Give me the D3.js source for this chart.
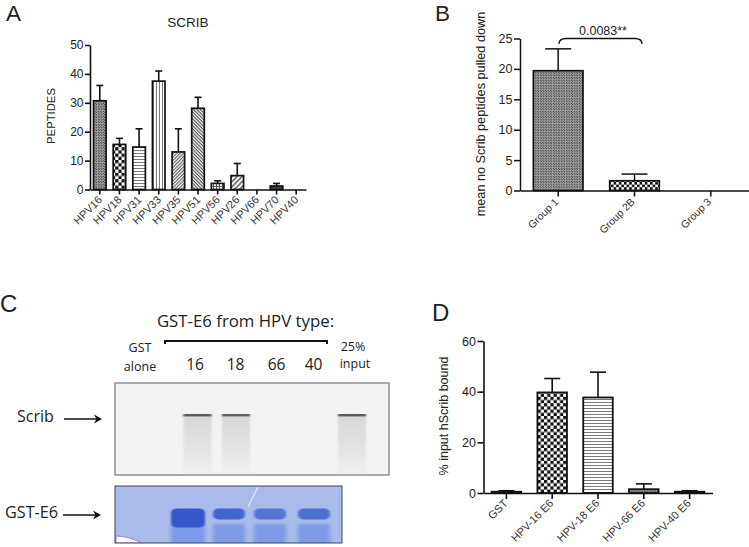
<!DOCTYPE html>
<html>
<head>
<meta charset="utf-8">
<script src="https://cdn.jsdelivr.net/npm/d3@7/dist/d3.min.js"></script>
<style>
body { margin: 0; background: #fff; }
svg { display: block; }
text { font-family: "Liberation Sans", Arial, sans-serif; fill: #222; }
.slide text { font-family: "Open Sans", sans-serif; }
.tick line, .domain { stroke: #111; }
</style>
</head>
<body>
<svg id="fig" width="749" height="547"></svg>
<script>
// panel A
var hpvTypes = ["HPV16", "HPV18", "HPV31", "HPV33", "HPV35", "HPV51", "HPV56", "HPV26", "HPV66", "HPV70", "HPV40"];
var hpvMeans = [30.7, 15.6, 14.7, 37.5, 13, 28.1, 2.1, 4.8, 0, 1.2, 0];
var hpvTops = [36, 17.7, 21, 41, 21, 31.9, 3, 9, 0, 2.1, 0];
var hpvFills = ["dots", "checks", "hlines", "vlines", "diagUp", "diagDown", "grid", "wideDiag", "dots", "dark", "dots"];
var hpvTicks = [0, 10, 20, 30, 40, 50];

// panel B
var groups = ["Group 1", "Group 2B", "Group 3"];
var groupMeans = [19.7, 1.6, 0];
var groupTops = [23.3, 2.7, 0];
var groupFills = ["dots", "checksFine", "dots"];
var groupTicks = [0, 5, 10, 15, 20, 25];

// panel D
var boundTypes = ["GST", "HPV-16 E6", "HPV-18 E6", "HPV-66 E6", "HPV-40 E6"];
var boundMeans = [0.5, 39.7, 37.7, 1.5, 0.5];
var boundTops = [0.9, 45.2, 47.7, 3.6, 0.9];
var boundFills = ["dots", "checks", "hlines", "dots", "dots"];
var boundTicks = [0, 20, 40, 60];

// panel C gel lanes
var lanes = ["16", "18", "66", "40"];
var scribLanes = ["16", "18", "input"];
var scribBand = [0.85, 0.8, 0.85];
var gstBand = [1, 0.85, 0.7, 0.75];

var svg = d3.select("#fig");
var defs = svg.append("defs");

function addPattern(id, size, draw, rotate) {
    var p = defs.append("pattern")
        .attr("id", id)
        .attr("patternUnits", "userSpaceOnUse")
        .attr("width", size)
        .attr("height", size);
    if (rotate) p.attr("patternTransform", "rotate(" + rotate + ")");
    p.append("rect").attr("width", size).attr("height", size).attr("fill", "#fff");
    draw(p);
}
function box(p, x, y, w, h, c) {
    p.append("rect").attr("x", x).attr("y", y).attr("width", w).attr("height", h).attr("fill", c || "#111");
}
addPattern("dots", 2.6, function (p) { box(p, 0, 0, 1.3, 1.3, "#333"); box(p, 1.3, 1.3, 1.3, 1.3, "#333"); box(p, 1.3, 0, 1.3, 1.3, "#999"); box(p, 0, 1.3, 1.3, 1.3, "#999"); });
addPattern("checks", 6.4, function (p) { box(p, 0, 0, 3.2, 3.2); box(p, 3.2, 3.2, 3.2, 3.2); });
addPattern("checksFine", 5.2, function (p) { box(p, 0, 0, 2.6, 2.6); box(p, 2.6, 2.6, 2.6, 2.6); });
addPattern("hlines", 3, function (p) { box(p, 0, 0, 3, 1, "#777"); });
addPattern("vlines", 3, function (p) { box(p, 0, 0, 1, 3, "#777"); });
addPattern("diagUp", 2.4, function (p) { box(p, 0, 0, 2.4, 1.2, "#666"); }, -45);
addPattern("diagDown", 2.4, function (p) { box(p, 0, 0, 2.4, 1.2, "#555"); }, 45);
addPattern("grid", 3, function (p) { box(p, 0, 0, 3, 1, "#555"); box(p, 0, 0, 1, 3, "#555"); });
addPattern("wideDiag", 3.6, function (p) { box(p, 0, 0, 3.6, 1.6, "#666"); }, -45);
addPattern("dark", 2, function (p) { box(p, 0, 0, 2, 2, "#444"); });

function barPanel(o) {
    var g = svg.append("g");
    var x = d3.scaleBand().domain(o.names).range(o.xRange).paddingInner(o.pad).paddingOuter(o.pad / 2);
    var y = d3.scaleLinear().domain([0, o.max]).range(o.yRange);
    var capW = o.cap;

    // error bars go behind the bars
    o.names.forEach(function (n, i) {
        if (o.tops[i] <= 0) return;
        var cx = x(n) + x.bandwidth() / 2;
        g.append("line").attr("x1", cx).attr("x2", cx).attr("y1", y(o.means[i])).attr("y2", y(o.tops[i]))
            .attr("stroke", "#111").attr("stroke-width", o.sw);
        g.append("line").attr("x1", cx - capW).attr("x2", cx + capW).attr("y1", y(o.tops[i])).attr("y2", y(o.tops[i]))
            .attr("stroke", "#111").attr("stroke-width", o.sw);
    });

    g.selectAll("rect.bar")
        .data(o.names)
        .join("rect")
        .attr("class", "bar")
        .attr("x", function (d) { return x(d); })
        .attr("width", x.bandwidth())
        .attr("y", function (d, i) { return y(o.means[i]); })
        .attr("height", function (d, i) { return y(0) - y(o.means[i]); })
        .attr("fill", function (d, i) { return "url(#" + o.fills[i] + ")"; })
        .attr("stroke", "#111")
        .attr("stroke-width", function (d, i) { return o.means[i] > 0 ? o.barSw : 0; });

    var yAxis = g.append("g")
        .attr("transform", "translate(" + o.xRange[0] + ",0)")
        .call(d3.axisLeft(y).tickValues(o.ticks).tickSize(o.tick).tickSizeOuter(0));
    yAxis.selectAll("text").style("font-size", o.yFont + "px").attr("x", -o.tick - 1.5);

    var xAxis = g.append("g")
        .attr("transform", "translate(0," + o.yRange[0] + ")")
        .call(d3.axisBottom(x).tickSize(o.tick).tickSizeOuter(0));
    xAxis.selectAll("text")
        .style("font-size", o.xFont + "px")
        .style("text-anchor", "end")
        .style("fill", "#333")
        .attr("x", 0).attr("y", 0).attr("dy", 0)
        .attr("transform", "translate(" + o.xLabel[0] + "," + o.xLabel[1] + ") rotate(-45)");

    g.selectAll(".domain, .tick line").attr("stroke-width", o.sw);
    return { x: x, y: y };
}

barPanel({
    names: hpvTypes, means: hpvMeans, tops: hpvTops, fills: hpvFills, ticks: hpvTicks,
    max: 50, xRange: [90, 306], yRange: [189.5, 45], pad: 0.36, cap: 3.5,
    sw: 1.6, barSw: 1.7, tick: 5, yFont: 12, xFont: 11, xLabel: [3, 11]
});
barPanel({
    names: groups, means: groupMeans, tops: groupTops, fills: groupFills, ticks: groupTicks,
    max: 25, xRange: [520, 749], yRange: [190.5, 38.5], pad: 0.35, cap: 13,
    sw: 1.5, barSw: 1.7, tick: 6, yFont: 12.5, xFont: 10.5, xLabel: [1, 12]
});
barPanel({
    names: boundTypes, means: boundMeans, tops: boundTops, fills: boundFills, ticks: boundTicks,
    max: 60, xRange: [483.5, 712.5], yRange: [493, 341], pad: 0.355, cap: 8,
    sw: 1.6, barSw: 1.8, tick: 6, yFont: 12.5, xFont: 11, xLabel: [2, 11]
});

function label(x, y, s, size, opts) {
    opts = opts || {};
    var t = (opts.parent || svg).append("text")
        .attr("x", x).attr("y", y)
        .style("font-size", size + "px")
        .style("text-anchor", opts.anchor || "middle")
        .text(s);
    if (opts.rotate) t.attr("transform", "rotate(" + opts.rotate + "," + x + "," + y + ")");
    return t;
}

// panel letters and chart titles
label(6, 20.5, "A", 22.5, { anchor: "start" });
label(435, 20.5, "B", 22.5, { anchor: "start" });
label(0, 312, "C", 24, { anchor: "start" });
label(432, 321, "D", 24, { anchor: "start" });
label(188, 27, "SCRIB", 13.5);
label(55, 116, "PEPTIDES", 11.3, { rotate: -90 });
label(484.5, 114, "mean no Scrib peptides pulled down", 12.7, { rotate: -90 });
label(448, 416, "% input hScrib bound", 12.5, { rotate: -90 });

// significance bracket, panel B
svg.append("path")
    .attr("d", "M559,44 Q559,38.5 566,38.5 L635,38.5 Q642,38.5 642,44")
    .attr("fill", "none").attr("stroke", "#111").attr("stroke-width", 1.3);
label(603, 35, "0.0083**", 12.5);

// panel C: blot images are painted, lanes placed with ordinal scales
var slide = svg.append("g").attr("class", "slide");
var scribX = d3.scaleOrdinal().domain(scribLanes).range([197.5, 236, 352]);
var gstX = d3.scaleOrdinal().domain(lanes).range([188, 229, 270, 314]);
var labelX = d3.scaleOrdinal().domain(lanes).range([195, 235.5, 276.5, 313.5]);

function blur(id, sx, sy) {
    defs.append("filter").attr("id", id)
        .attr("x", "-30%").attr("y", "-100%").attr("width", "160%").attr("height", "300%")
        .append("feGaussianBlur").attr("stdDeviation", sx + " " + sy);
}
blur("soft", 0.8, 0.6);
blur("softer", 2, 1.8);

var smear = defs.append("linearGradient").attr("id", "smear").attr("x1", 0).attr("x2", 0).attr("y1", 0).attr("y2", 1);
smear.append("stop").attr("offset", 0).attr("stop-color", "#d6d6d6");
smear.append("stop").attr("offset", 0.4).attr("stop-color", "#e0e0e0");
smear.append("stop").attr("offset", 1).attr("stop-color", "#f0f0f0");

defs.append("clipPath").attr("id", "scribClip").append("rect").attr("x", 115).attr("y", 383).attr("width", 274).attr("height", 92);
defs.append("clipPath").attr("id", "gstClip").append("rect").attr("x", 115).attr("y", 486).attr("width", 227).attr("height", 57);

// Scrib gel
slide.append("rect").attr("x", 115).attr("y", 383).attr("width", 274).attr("height", 92).attr("fill", "#f3f3f3");
var scribGel = slide.append("g").attr("clip-path", "url(#scribClip)");
scribLanes.forEach(function (l, i) {
    var cx = scribX(l);
    scribGel.append("rect").attr("x", cx - 14).attr("y", 415).attr("width", 28).attr("height", 60)
        .attr("fill", "url(#smear)").attr("filter", "url(#soft)");
    scribGel.append("rect").attr("x", cx - 14).attr("y", 414).attr("width", 28).attr("height", 2.4)
        .attr("fill", "#444").attr("opacity", scribBand[i]).attr("filter", "url(#soft)");
});
slide.append("rect").attr("x", 115).attr("y", 383).attr("width", 274).attr("height", 92)
    .attr("fill", "none").attr("stroke", "#777").attr("stroke-width", 1.2);

// GST-E6 gel
slide.append("rect").attr("x", 115).attr("y", 486).attr("width", 227).attr("height", 57).attr("fill", "#a8bbea");
var gstGel = slide.append("g").attr("clip-path", "url(#gstClip)");
lanes.forEach(function (l, i) {
    var cx = gstX(l);
    var w = i == 0 ? 34 : 32;
    var h = i == 0 ? 19 : 11;
    var cy = i == 0 ? 518 : 514;
    gstGel.append("rect").attr("x", cx - w / 2).attr("y", 524).attr("width", w).attr("height", 24)
        .attr("fill", "#7f9ae6").attr("filter", "url(#softer)");
    gstGel.append("rect").attr("x", cx - w / 2).attr("y", cy - h / 2).attr("width", w).attr("height", h).attr("rx", 5)
        .attr("fill", "#3059cc").attr("opacity", gstBand[i]).attr("filter", "url(#soft)");
});
gstGel.append("path").attr("d", "M116,543 L116,536 Q128,536 142,543 Z").attr("fill", "#fff").attr("stroke", "#9d7fd8");
gstGel.append("line").attr("x1", 258).attr("y1", 487).attr("x2", 248).attr("y2", 507)
    .attr("stroke", "#e8eefc").attr("stroke-width", 1.1);
slide.append("rect").attr("x", 115).attr("y", 486).attr("width", 227).attr("height", 57)
    .attr("fill", "none").attr("stroke", "#3c4660").attr("stroke-width", 1);

// lane labels
label(245.5, 327, "GST-E6 from HPV type:", 16.8, { parent: slide });
slide.append("path").attr("d", "M165,344 L165,341 L327,341 L327,344")
    .attr("fill", "none").attr("stroke", "#111").attr("stroke-width", 2);
label(140, 352, "GST", 12.5, { parent: slide });
label(140, 371, "alone", 12.5, { parent: slide });
label(353, 351, "25%", 12.5, { parent: slide });
label(355, 368, "input", 12.5, { parent: slide });
lanes.forEach(function (l) {
    label(labelX(l), 370, l, 15.5, { parent: slide });
});

// side labels with arrows
label(17, 422, "Scrib", 16, { parent: slide, anchor: "start" });
label(5, 518, "GST-E6", 16.2, { parent: slide, anchor: "start" });
function arrow(x1, x2, y) {
    slide.append("line").attr("x1", x1).attr("x2", x2 - 3).attr("y1", y).attr("y2", y)
        .attr("stroke", "#111").attr("stroke-width", 1.6);
    slide.append("path")
        .attr("d", "M" + (x2 - 8) + "," + (y - 4.5) + " L" + x2 + "," + y + " L" + (x2 - 8) + "," + (y + 4.5) + " L" + (x2 - 5.5) + "," + y + " Z")
        .attr("fill", "#111");
}
arrow(64, 102, 419);
arrow(63, 101, 515);
</script>
</body>
</html>
